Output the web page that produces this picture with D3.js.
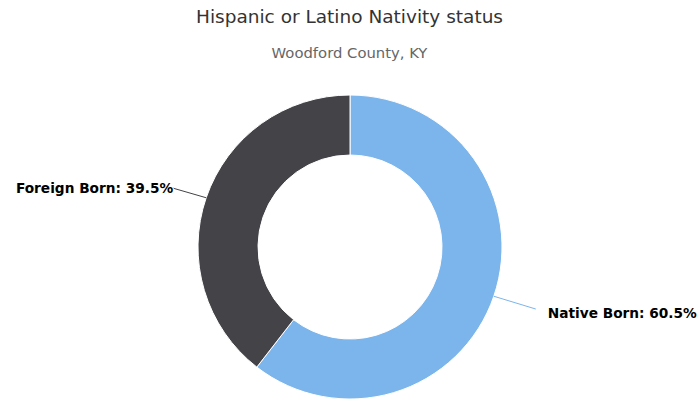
<!DOCTYPE html>
<html><head><meta charset="utf-8">
<script src="https://cdn.jsdelivr.net/npm/d3@7/dist/d3.min.js"></script>
<style>body{margin:0;background:#fff;}svg{display:block;}</style>
</head><body>
<svg id="chart" width="699" height="400"></svg>
<script>
const categories = ["Native Born", "Foreign Born"];
const values = [60.5, 39.5];
const colors = ["#7cb5ec", "#434348"];
const titleText = "Hispanic or Latino Nativity status";
const subtitleText = "Woodford County, KY";

const W = 699, H = 400;
const svg = d3.select("#chart");
const font = "'DejaVu Sans', 'Lucida Grande', Verdana, sans-serif";

svg.append("text").attr("x", W/2).attr("y", 23).attr("text-anchor","middle")
  .attr("font-family", font).attr("font-size", 18.5).attr("fill","#333333").text(titleText);
svg.append("text").attr("x", W/2).attr("y", 58).attr("text-anchor","middle")
  .attr("font-family", font).attr("font-size", 14.8).attr("fill","#666666").text(subtitleText);

const cx = 350, cy = 247, R = 152, r = 92;
const pie = d3.pie().sort(null).value(d => d.v);
const arcs = pie(categories.map((c,i)=>({c, v: values[i], col: colors[i]})));
const arc = d3.arc().innerRadius(r).outerRadius(R);
const g = svg.append("g").attr("transform", `translate(${cx},${cy})`);
g.selectAll("path").data(arcs).join("path")
  .attr("d", arc).attr("fill", d => d.data.col)
  .attr("stroke", "#ffffff").attr("stroke-width", 1).attr("stroke-linejoin","round");

arcs.forEach(d => {
  const a = (d.startAngle + d.endAngle)/2;
  const ax = Math.sin(a)*R, ay = -Math.cos(a)*R;
  const right = ax > 0;
  const ex = ax + (right ? 42 : -34);
  const ey = ay * (right ? 1.26 : 1.2);
  g.append("path").attr("d", `M${ax},${ay}L${ex},${ey}`)
    .attr("fill","none").attr("stroke", d.data.col).attr("stroke-width",1);
  g.append("text").attr("x", right ? ex + 12 : ex + 1).attr("y", ey + (right ? 9 : 5))
    .attr("text-anchor", right ? "start" : "end")
    .attr("font-family", font).attr("font-size", 13.7).attr("font-weight","bold")
    .attr("fill","#000000").attr("stroke","#ffffff").attr("stroke-width",2)
    .attr("stroke-linejoin","round").attr("paint-order","stroke")
    .text(`${d.data.c}: ${d.data.v}%`);
});
</script>
</body></html>
